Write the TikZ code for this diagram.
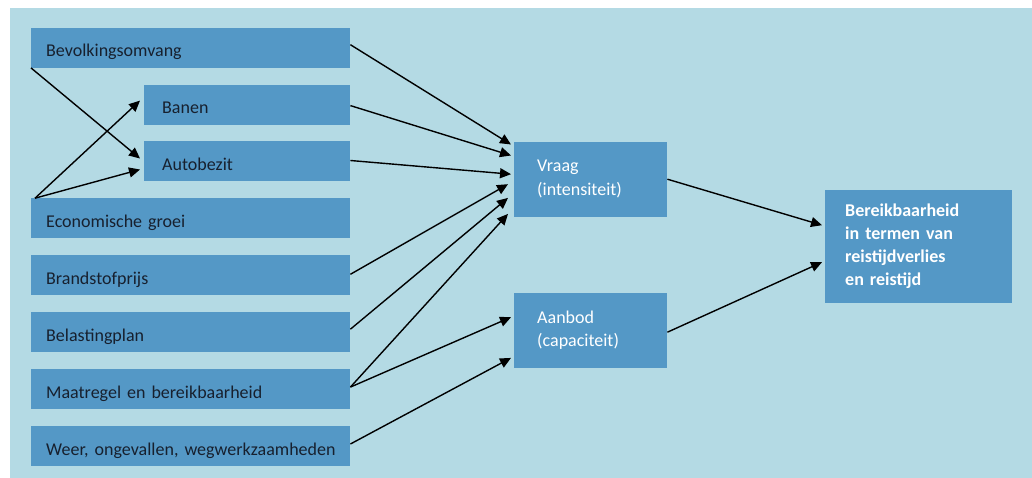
\documentclass[tikz,border=0pt]{standalone}
\usepackage{fontspec}
\setmainfont{Carlito}
\usepackage{xcolor}
\usetikzlibrary{shapes,arrows,arrows.meta,positioning,calc}

\definecolor{panel}{HTML}{B4DAE4}
\definecolor{boxblue}{HTML}{5498C6}
\definecolor{ink}{HTML}{17202E}

\begin{document}
\begin{tikzpicture}[
    x=1pt, y=-1pt,
    factor/.style={rectangle, fill=boxblue, text=ink, text width=289pt, inner xsep=15pt, inner ysep=0pt, text height=29pt, text depth=11pt, align=left, font=\fontsize{18}{23}\selectfont},
    subfactor/.style={factor, text width=170pt, inner xsep=18pt},
    effect/.style={rectangle, fill=boxblue, text=white, text width=107pt, inner xsep=23pt, inner ysep=0pt, minimum height=75pt, align=left, font=\fontsize{18}{24}\selectfont},
    goal/.style={rectangle, fill=boxblue, text=white, text width=147pt, inner xsep=20pt, inner ysep=0pt, minimum height=113pt, align=left, font=\fontsize{18}{23.3}\selectfont\bfseries},
    arrow/.style={->, >={Triangle[length=11pt,width=10pt]}, line width=1.4pt},
    node distance=16.5pt
]
    \useasboundingbox (0,0) rectangle (1032,478);
    \fill[panel] (10,8) rectangle (1032,478);

    \node[factor, anchor=north west] at (31,27.5) (bev) {Bevolkingsomvang};
    \node[subfactor, below=16.5pt of bev.south east, anchor=north east] (banen) {Banen};
    \node[subfactor, below=of banen] (auto) {Autobezit};
    \node[factor, below=16.5pt of auto.south east, anchor=north east] (eco) {Economische groei};
    \node[factor, below=of eco] (brand) {Brandstofprijs};
    \node[factor, below=of brand] (belast) {Belastingplan};
    \node[factor, below=of belast] (maatr) {Maatregel en bereikbaarheid};
    \node[factor, below=of maatr] (weer) {\mbox{Weer, ongevallen, wegwerkzaamheden}};

    \node[effect, anchor=north west] at (514,141.5) (vraag) {Vraag\\(intensiteit)};
    \node[effect, anchor=north west] at (514,292.5) (aanbod) {Aanbod\\(capaciteit)};
    \node[goal, anchor=north west] at (825,189.5) (bereik) {Bereikbaarheid\\in termen van\\reistijdverlies\\en reistijd};

    % links binnen de linker kolom
    \draw[arrow] (bev.south west) -- ($(auto.west)+(-4,-3)$);
    \draw[arrow] ($(eco.north west)+(4,0)$) -- ($(banen.west)+(-4,-4)$);
    \draw[arrow] ($(eco.north west)+(4,0)$) -- ($(auto.west)+(-4,8)$);

    % naar vraag
    \draw[arrow] ($(bev.east)+(0,-3)$) -- ($(vraag.north west)+(-3,3)$);
    \draw[arrow] ($(banen.east)+(0,1)$) -- ($(vraag.north west)+(-3,14)$);
    \draw[arrow] ($(auto.east)+(0,-1)$) -- ($(vraag.west)+(-3,-5)$);
    \draw[arrow] ($(brand.east)+(0,-1)$) -- ($(vraag.west)+(-6,5)$);
    \draw[arrow] ($(belast.east)+(0,-3)$) -- ($(vraag.south west)+(-6,-19)$);
    \draw[arrow] ($(maatr.east)+(0,-2)$) -- ($(vraag.south west)+(-6,-3)$);

    % naar aanbod
    \draw[arrow] ($(maatr.east)+(0,-2)$) -- ($(aanbod.west)+(-3,-13)$);
    \draw[arrow] ($(weer.east)+(0,-2)$) -- ($(aanbod.south west)+(-3,-10)$);

    % naar bereikbaarheid
    \draw[arrow] ($(vraag.east)+(0,0)$) -- ($(bereik.west)+(-3,-21)$);
    \draw[arrow] ($(aanbod.east)+(0,2)$) -- ($(bereik.west)+(-3,16)$);
\end{tikzpicture}
\end{document}
